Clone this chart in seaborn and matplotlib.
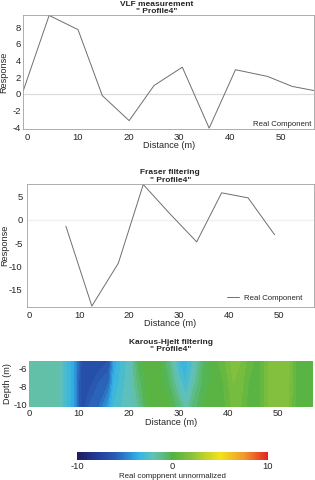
import numpy as np
import pandas as pd
import matplotlib
matplotlib.use("Agg")
import matplotlib.pyplot as plt
import seaborn as sns
from matplotlib.colors import LinearSegmentedColormap

# ---------------- data ----------------
vlf_distance = [-0.8, 4.3, 10.0, 14.8, 20.1, 25.0, 30.6, 35.9, 41.1, 47.4, 52.3, 56.6]
vlf_response = [0.4, 9.4, 7.7, -0.2, -3.2, 1.0, 3.2, -4.1, 2.9, 2.1, 0.9, 0.4]

fraser_distance = [7.3, 12.5, 17.8, 22.8, 28.0, 33.5, 38.5, 43.8, 49.1]
fraser_response = [-1.35, -18.7, -9.4, 7.7, 1.5, -4.75, 5.9, 4.8, -3.2]

kh_distance = [0, 3, 6, 7.5, 9, 10.5, 12, 14, 16, 17, 18.5, 20.5, 22, 24, 26, 28,
               30, 31.5, 33, 35, 37, 39, 41, 42.5, 44, 46, 48, 50, 52, 53.5, 55, 57]
kh_depth = [-5.2, -7.6, -10.2]
kh_top = [-1.8, -1.8, -2.0, -3.0, -4.0, -6.5, -7.0, -7.0, -6.5, -4.0, -3.0, -2.0, -0.3, 0.5, 0.3, -1.0,
          -3.0, -3.2, -2.5, -0.5, 0.2, 0.8, 1.8, 1.5, 0.8, 0.2, 1.5, 2.0, 1.8, 0.5, 0.2, 0.2]
kh_mid = [-1.8, -1.8, -2.0, -3.0, -4.0, -7.0, -6.8, -6.0, -5.5, -3.5, -2.8, -2.0, -0.8, 0.3, 0.3, -0.5,
          -2.2, -3.0, -1.8, -0.3, 0.2, 0.5, 1.5, 1.2, 0.5, 0.2, 1.5, 1.9, 1.6, 0.5, 0.2, 0.2]
kh_bottom = [-1.8, -1.8, -2.0, -3.0, -4.0, -7.0, -6.0, -5.5, -4.0, -3.0, -2.5, -2.0, -1.5, 0.2, 0.3, 0.2,
             -0.8, -2.0, -0.8, 0.0, 0.2, 0.3, 1.2, 1.0, 0.3, 0.2, 1.5, 1.8, 1.5, 0.5, 0.2, 0.2]

cbar_ticks = [-10, 0, 10]

# ---------------- style ----------------
sns.set_theme(style="white")
plt.rcParams['font.family'] = ['Liberation Sans', 'DejaVu Sans']
plt.rcParams['axes.edgecolor'] = '#a0a0a0'
plt.rcParams['axes.linewidth'] = 0.6
plt.rcParams['axes.unicode_minus'] = False

W, H = 315, 480
fig = plt.figure(figsize=(W / 100, H / 100), dpi=100)

def box(l, t, r, b):
    return [l / W, (H - b) / H, (r - l) / W, (b - t) / H]

line_col = '#6e6e6e'
tick_fs = 6.8
lab_fs = 6.6
title_fs = 6.0
leg_fs = 5.6

# ---------------- panel 1: VLF ----------------
ax1 = fig.add_axes(box(23.3, 15, 314, 129))
df1 = pd.DataFrame({'Distance': vlf_distance, 'Response': vlf_response})
ax1.axhline(0, color='#dcdcdc', lw=0.9, zorder=0)
sns.lineplot(data=df1, x='Distance', y='Response', ax=ax1, color=line_col, lw=0.7,
             label='Real Component')
ax1.set_xlim(min(vlf_distance), max(vlf_distance))
ax1.set_ylim(-4.2, 9.45)
ax1.set_xticks([0, 10, 20, 30, 40, 50])
ax1.set_yticks([-4, -2, 0, 2, 4, 6, 8])
ax1.tick_params(axis='x', labelsize=tick_fs, length=0, pad=3.2)
ax1.tick_params(axis='y', labelsize=tick_fs, length=0, pad=1.5)
ax1.set_xlabel('Distance (m)', fontsize=lab_fs)
ax1.set_ylabel('Response', fontsize=lab_fs)
ax1.xaxis.set_label_coords(0.5, -0.105)
ax1.xaxis.label.set_va('top')
ax1.yaxis.set_label_coords(-0.051, 0.5)
ax1.set_title('VLF measurement\n" Profile4"', fontsize=title_fs, fontweight='bold',
              x=0.46, pad=1.2, linespacing=1.05)
ax1.legend(loc='lower right', bbox_to_anchor=(0.995, 0.0), frameon=False, fontsize=leg_fs,
           handlelength=0, handletextpad=0, borderpad=0.1, borderaxespad=0)

# ---------------- panel 2: Fraser ----------------
ax2 = fig.add_axes(box(26.7, 184.3, 314, 307))
df2 = pd.DataFrame({'Distance': fraser_distance, 'Response': fraser_response})
ax2.axhline(0, color='#efefef', lw=0.9, zorder=0)
sns.lineplot(data=df2, x='Distance', y='Response', ax=ax2, color=line_col, lw=0.7,
             label='Real Component')
ax2.set_xlim(-0.55, 57)
ax2.set_ylim(-18.9, 7.75)
ax2.set_xticks([0, 10, 20, 30, 40, 50])
ax2.set_yticks([-15, -10, -5, 0, 5])
ax2.tick_params(axis='x', labelsize=tick_fs, length=0, pad=3.2)
ax2.tick_params(axis='y', labelsize=tick_fs, length=0, pad=3)
ax2.set_xlabel('Distance (m)', fontsize=lab_fs)
ax2.set_ylabel('Response', fontsize=lab_fs)
ax2.xaxis.set_label_coords(0.5, -0.10)
ax2.xaxis.label.set_va('top')
ax2.yaxis.set_label_coords(-0.06, 0.5)
ax2.set_title('Fraser filtering\n" Profile4"', fontsize=title_fs, fontweight='bold',
              pad=2.0, linespacing=1.05)
ax2.legend(loc='lower right', bbox_to_anchor=(0.958, 0.04), frameon=False, fontsize=leg_fs,
           handlelength=1.5, handletextpad=0.6, borderpad=0, borderaxespad=0)

# ---------------- panel 3: Karous-Hjelt ----------------
ax3 = fig.add_axes(box(29, 360.7, 313, 406.7))
cmap = LinearSegmentedColormap.from_list('kh', [
    (0.00, '#211c5c'),
    (0.10, '#1f3a98'),
    (0.20, '#2a5cb4'),
    (0.275, '#2b8fd6'),
    (0.325, '#35b4e6'),
    (0.40, '#64c2b4'),
    (0.45, '#5cba80'),
    (0.50, '#52b244'),
    (0.60, '#88c23c'),
    (0.675, '#c4d22c'),
    (0.75, '#f2e31c'),
    (0.875, '#f09a2c'),
    (1.00, '#e42324'),
])
Z = np.array([kh_top, kh_mid, kh_bottom])
X, Y = np.meshgrid(kh_distance, kh_depth)
levels = np.arange(-10, 10.01, 0.5)
cs = ax3.contourf(X, Y, Z, levels=levels, cmap=cmap, vmin=-10, vmax=10)
ax3.set_xlim(0, 57)
ax3.set_ylim(-10.2, -5.2)
ax3.set_xticks([0, 10, 20, 30, 40, 50])
ax3.set_yticks([-10, -8, -6])
for s in ax3.spines.values():
    s.set_visible(False)
ax3.tick_params(axis='x', labelsize=tick_fs, length=0, pad=1.8)
ax3.tick_params(axis='y', labelsize=tick_fs, length=0, pad=1.5)
ax3.set_xlabel('Distance (m)', fontsize=lab_fs)
ax3.set_ylabel('Depth (m)', fontsize=lab_fs)
ax3.xaxis.set_label_coords(0.5, -0.24)
ax3.xaxis.label.set_va('top')
ax3.yaxis.set_label_coords(-0.06, 0.5)
ax3.set_title('Karous-Hjelt filtering\n" Profile4"', fontsize=title_fs, fontweight='bold',
              pad=7, linespacing=1.05)

# ---------------- colorbar ----------------
cax = fig.add_axes(box(77, 451.5, 268, 459.5))
sm = matplotlib.cm.ScalarMappable(norm=matplotlib.colors.Normalize(-10, 10), cmap=cmap)
cb = fig.colorbar(sm, cax=cax, orientation='horizontal', ticks=cbar_ticks)
cb.outline.set_visible(False)
cb.ax.tick_params(labelsize=tick_fs, length=0, pad=1.5)
cb.set_label('Real comppnent unnormalized', fontsize=5.7, labelpad=1.5)

fig.savefig('out.png', dpi=100)
